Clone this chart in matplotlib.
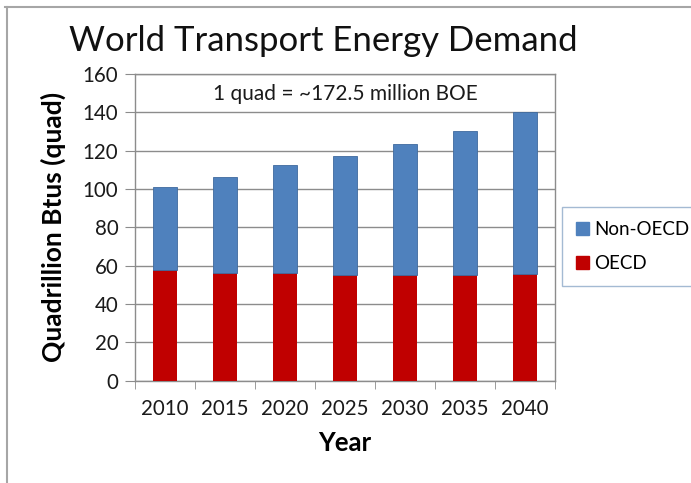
import matplotlib
matplotlib.use("Agg")
import matplotlib.pyplot as plt
from matplotlib.lines import Line2D
from matplotlib.patches import Patch

plt.rcParams['font.family'] = ['Lato', 'DejaVu Sans']

years = ["2010", "2015", "2020", "2025", "2030", "2035", "2040"]
oecd = [58, 56, 56, 55, 55, 55, 55.5]
non_oecd = [43, 50.5, 56.5, 62, 68.5, 75.5, 84.5]
y_ticks = [0, 20, 40, 60, 80, 100, 120, 140, 160]

blue = "#4F81BD"
red = "#C00000"
grid_gray = "#8C8C8C"

fig = plt.figure(figsize=(6.91, 4.83), dpi=100)
ax = fig.add_axes([0.1954, 0.2118, 0.6078, 0.635])

x = list(range(len(years)))
ax.bar(x, oecd, width=0.4, color=red, zorder=3, label="OECD")
ax.bar(x, non_oecd, width=0.4, bottom=oecd, color=blue, edgecolor="#3F6A9E",
       linewidth=0.6, zorder=3, label="Non-OECD")

ax.set_xlim(-0.5, len(years) - 0.5)
ax.set_ylim(0, 160)
ax.set_yticks(y_ticks)
ax.yaxis.grid(True, color=grid_gray, linewidth=1.0, zorder=0)
ax.set_axisbelow(True)

ax.set_xticks(x)
ax.set_xticklabels(years, fontsize=14.8, color="#1a1a1a")
ax.set_xticks([i - 0.5 for i in range(len(years) + 1)], minor=True)
ax.tick_params(axis="x", which="major", length=0, pad=13)
ax.tick_params(axis="x", which="minor", length=6, color=grid_gray, direction="out")
ax.tick_params(axis="y", labelsize=14.8, length=7, color=grid_gray,
               labelcolor="#1a1a1a", pad=5)

for s in ax.spines.values():
    s.set_color(grid_gray)
    s.set_linewidth(1.0)

ax.set_xlabel("Year", fontsize=18.5, fontweight="bold", labelpad=9)
ax.set_ylabel("Quadrillion Btus (quad)", fontsize=19, fontweight="bold", labelpad=12)

ax.text(0.5, 0.935, "1 quad = ~172.5 million BOE", transform=ax.transAxes,
        ha="center", va="center", fontsize=15, color="#1a1a1a")

fig.text(0.468, 0.915, "World Transport Energy Demand", ha="center", va="center",
         fontsize=25, color="#111111")

handles = [Patch(facecolor=blue, edgecolor=blue), Patch(facecolor=red, edgecolor=red)]
leg = fig.legend(handles, ["Non-OECD", "OECD"], loc="upper left",
                 bbox_to_anchor=(562 / 691, 1 - 207 / 483), frameon=True,
                 fontsize=13.5, handlelength=0.7, handleheight=0.7, handletextpad=0.25,
                 labelspacing=0.9, borderpad=0.75, borderaxespad=0, fancybox=False)
leg.get_frame().set_edgecolor("#8EA9C8")
leg.get_frame().set_linewidth(1.0)

# outer frame lines
fig.add_artist(Line2D([5 / 691, 1.0], [1 - 6.5 / 483, 1 - 6.5 / 483],
                      transform=fig.transFigure, color="#A6A6A6", linewidth=1.5))
fig.add_artist(Line2D([7 / 691, 7 / 691], [0, 1 - 6.5 / 483],
                      transform=fig.transFigure, color="#A6A6A6", linewidth=1.5))

fig.savefig("out.png", dpi=100)
